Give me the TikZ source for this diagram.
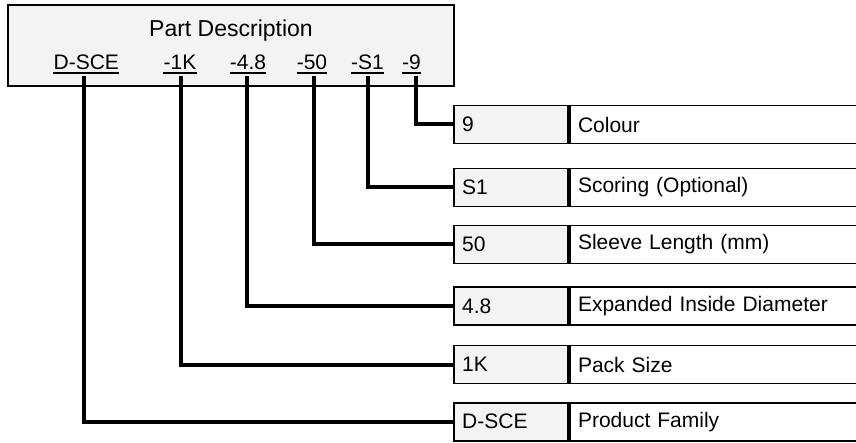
\documentclass[tikz,border=0pt]{standalone}
\usepackage{fontspec}
\setmainfont{Liberation Sans}
\definecolor{boxgray}{RGB}{242,243,242}
\begin{document}
\begin{tikzpicture}[x=1pt,y=-1pt,
  txt/.style={font=\fontsize{21}{25}\selectfont},
  hdrbox/.style={draw, line width=1.8pt, fill=boxgray, minimum width=446pt, minimum height=81pt, inner sep=0pt},
  code/.style={txt, inner sep=0pt, anchor=base},
  codecell/.style={txt, draw, line width=1.8pt, fill=boxgray, anchor=west, minimum height=38pt, text width=98pt, inner xsep=8pt, inner ysep=0pt, align=left},
  desccell/.style={txt, draw, line width=1.8pt, fill=white, anchor=west, minimum height=38pt, text width=300pt, inner xsep=8pt, inner ysep=0pt, align=left},
  conn/.style={line width=4pt},
  uline/.style={line width=1.3pt}
]
\useasboundingbox (0,0) rectangle (856,443);
\clip (0,0) rectangle (856,443);

% header
\node[hdrbox] (hdr) at (231,45.5) {};
\node[code, font=\fontsize{23}{27}\selectfont] (title) at (231,37) {Part Description};

\node[code] (lf) at (86.3,70) {D-SCE};
\node[code] (lk) at (180,70) {-1K};
\node[code] (ld) at (248,70) {-4.8};
\node[code] (ll) at (312,70) {-50};
\node[code] (ls) at (367.5,70) {-S1};
\node[code] (lc) at (411.5,70) {-9};
\foreach \n in {lf,lk,ld,ll,ls,lc}
  \draw[uline] ([yshift=-3pt]\n.base west) -- ([yshift=-3pt]\n.base east);

% rows
\node[codecell] (cc) at (453.3,124.5) {9};
\node[desccell] (dc) at (cc.east) {Colour};
\node[codecell] (cs) at (453.3,187.5) {S1};
\node[desccell] (ds) at (cs.east) {Scoring (Optional)};
\node[codecell] (cl) at (453.3,244.5) {50};
\node[desccell] (dl) at (cl.east) {Sleeve Length (mm)};
\node[codecell] (cd) at (453.3,306) {4.8};
\node[desccell] (dd) at (cd.east) {Expanded Inside Diameter};
\node[codecell] (ck) at (453.3,364.5) {1K};
\node[desccell] (dk) at (ck.east) {Pack Size};
\node[codecell] (cf) at (453.3,421.7) {D-SCE};
\node[desccell] (df) at (cf.east) {Product Family};

% connectors
\draw[conn] ([xshift=-2.3pt,yshift=-6pt]lf.base) |- (cf.west);
\draw[conn] ([xshift=1pt,yshift=-6pt]lk.base) |- (ck.west);
\draw[conn] ([xshift=-1pt,yshift=-6pt]ld.base) |- (cd.west);
\draw[conn] ([xshift=2pt,yshift=-6pt]ll.base) |- (cl.west);
\draw[conn] ([xshift=0.5pt,yshift=-6pt]ls.base) |- (cs.west);
\draw[conn] ([xshift=4.5pt,yshift=-6pt]lc.base) |- (cc.west);
\end{tikzpicture}
\end{document}
